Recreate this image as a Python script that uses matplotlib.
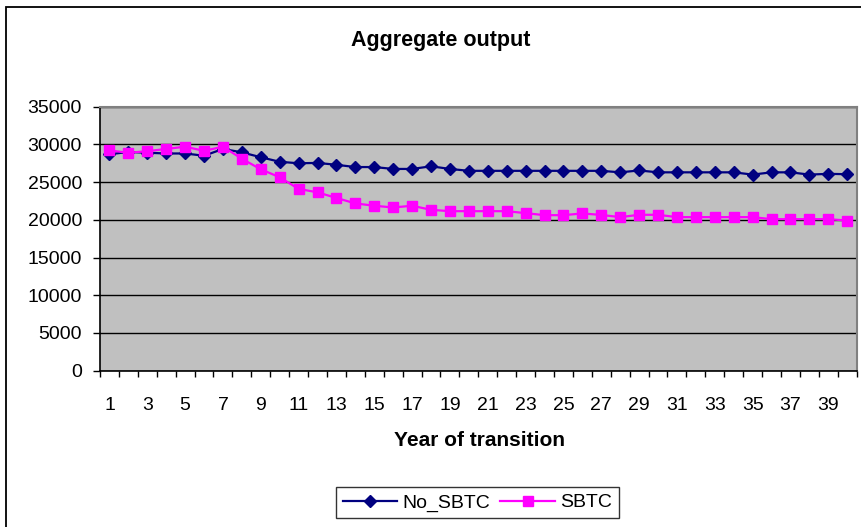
import matplotlib.pyplot as plt
from matplotlib.patches import Rectangle

plt.rcParams['font.family'] = ['Liberation Sans', 'DejaVu Sans']

# Data #
years = list(range(1, 41))
no_sbtc = [28700, 29000, 28900, 28800, 28800, 28500, 29400, 28950, 28300, 27700,
           27500, 27550, 27300, 27000, 27000, 26750, 26750, 27100, 26750, 26500,
           26500, 26500, 26500, 26500, 26500, 26500, 26500, 26300, 26550, 26300,
           26300, 26300, 26300, 26300, 26000, 26300, 26300, 26000, 26100, 26050]
sbtc = [29200, 28900, 29100, 29400, 29700, 29150, 29700, 28100, 26700, 25650,
        24100, 23650, 22900, 22180, 21870, 21640, 21870, 21330, 21150, 21150,
        21150, 21150, 20890, 20620, 20620, 20850, 20650, 20360, 20670, 20670,
        20360, 20360, 20360, 20360, 20360, 20090, 20090, 20090, 20090, 19910]
y_ticks = [0, 5000, 10000, 15000, 20000, 25000, 30000, 35000]
x_labels = [str(y) for y in years if y % 2 == 1]

# Plotting #
fig = plt.figure(figsize=(8.62, 5.27), dpi=100)
ax = fig.add_axes([0.116, 0.2966, 0.8778, 0.5009])
ax.set_facecolor("#C0C0C0")

ax.plot(years, no_sbtc, color="#000080", lw=1.6, marker="D", ms=6.3, label="No_SBTC", zorder=3)
ax.plot(years, sbtc, color="#FF00FF", lw=1.6, marker="s", ms=7.8, label="SBTC", zorder=4)

ax.set_xlim(0.5, 40.5)
ax.set_ylim(0, 35000)
ax.set_yticks(y_ticks)
ax.set_yticklabels([str(v) for v in y_ticks])
ax.yaxis.grid(True, color="black", lw=1)
ax.set_axisbelow(True)

odd = [y for y in years if y % 2 == 1]
ax.set_xticks(odd)
ax.set_xticklabels(x_labels)
ax.set_xticks([i + 0.5 for i in range(0, 41)], minor=True)
ax.tick_params(axis="x", which="major", length=0, pad=19, labelsize=14)
ax.tick_params(axis="x", which="minor", length=4, width=1, direction="out", color="black")
ax.tick_params(axis="y", length=5, width=1, direction="out", pad=8, labelsize=14)

for side in ["top", "right"]:
    ax.spines[side].set_color("#808080")
    ax.spines[side].set_linewidth(1.5)
for side in ["left", "bottom"]:
    ax.spines[side].set_color("black")
    ax.spines[side].set_linewidth(1.2)

fig.text(0.5116, 0.924, "Aggregate output", ha="center", va="center",
         fontsize=15.5, fontweight="bold")
fig.text(0.556, 0.165, "Year of transition", ha="center", va="center",
         fontsize=15, fontweight="bold")

leg = fig.legend(loc="center", bbox_to_anchor=(0.554, 0.046), ncol=2, fontsize=14,
                 frameon=True, fancybox=False, edgecolor="black", handlelength=2.8,
                 columnspacing=0.5, handletextpad=0.3, borderpad=0.35)
leg.get_frame().set_linewidth(1)

fig.patches.append(Rectangle((6 / 862, -0.05), 1.2, 1 - 7 / 527 + 0.05,
                             transform=fig.transFigure, fill=False,
                             edgecolor="black", lw=1.3))

fig.savefig("out.png", dpi=100)
